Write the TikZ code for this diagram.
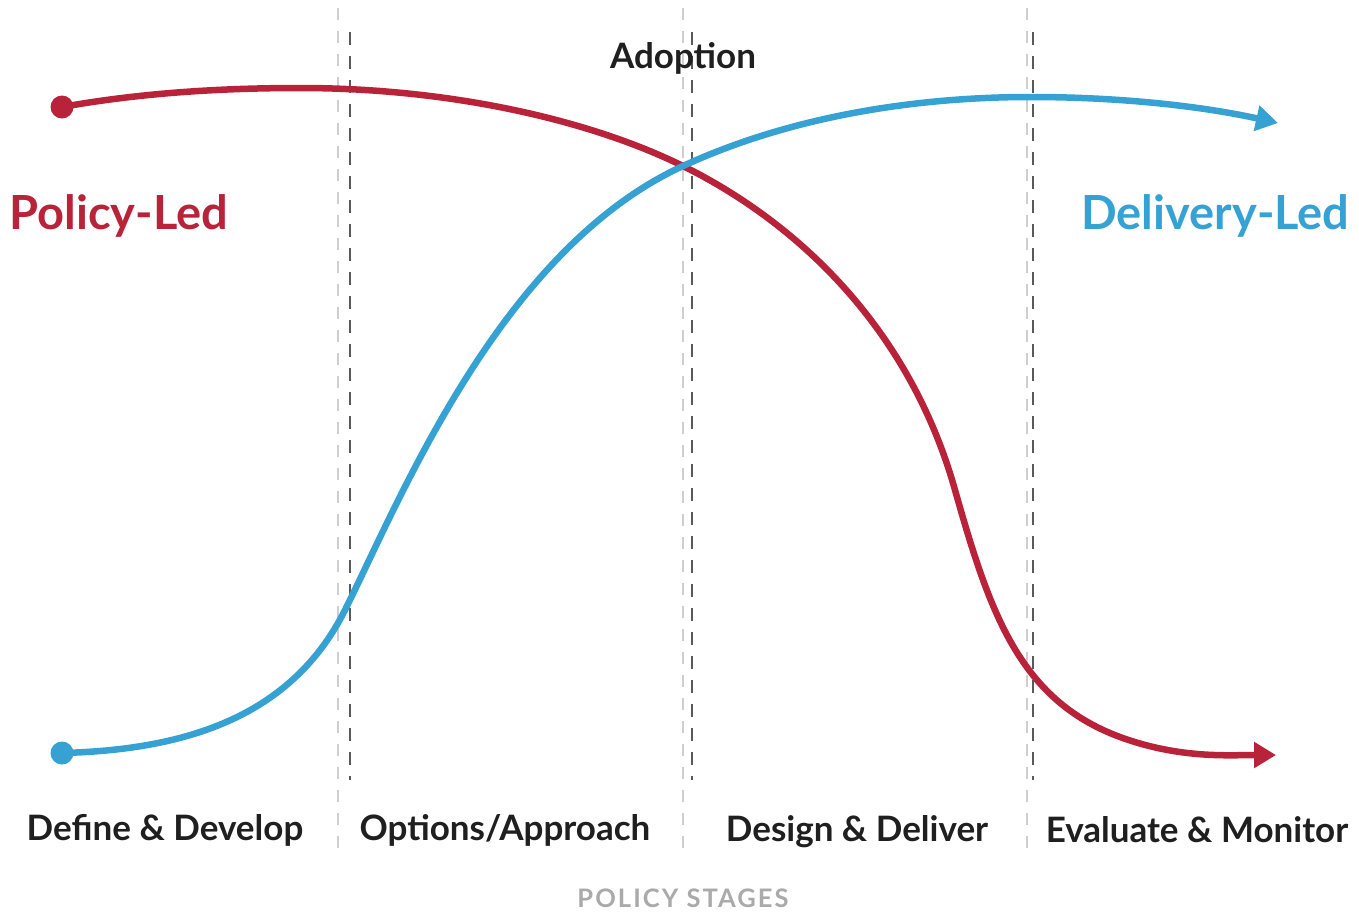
\documentclass[tikz,border=0pt]{standalone}
\usepackage{fontspec}
\setmainfont{Lato}
\usepackage{xcolor}
\usetikzlibrary{arrows.meta,positioning}

\definecolor{policyred}{HTML}{B8233A}
\definecolor{deliveryblue}{HTML}{36A1D3}
\definecolor{guidegray}{HTML}{CFCFCF}
\definecolor{stagegray}{HTML}{AAAAAA}

\tikzset{
  lane/.style={dashed, dash pattern=on 12pt off 11pt, line width=1.4pt, guidegray},
  mark line/.style={dashed, dash pattern=on 13pt off 11pt, line width=1.4pt, black!65},
  flow/.style={line width=6.5pt, line cap=round, -{Triangle[length=22pt,width=25pt]}},
  stage/.style={font=\bfseries\fontsize{35}{40}\selectfont, text=black!88},
  approach/.style={font=\bfseries\fontsize{47}{52}\selectfont}
}

\begin{document}
\begin{tikzpicture}[x=1pt, y=-1pt]
    \useasboundingbox (0,0) rectangle (1359,911);

    % stage boundaries
    \foreach \x in {338,683,1027} \draw[lane] (\x,8) -- (\x,850);
    \foreach \x in {350,692,1033} \draw[mark line] (\x,32) -- (\x,780);

    \coordinate (policy start) at (62,107);
    \coordinate (delivery start) at (62,753);
    \coordinate (cross) at (683,166);
    \coordinate (policy end) at (1276,755);
    \coordinate (delivery end) at (1278,123);

    % Policy-Led curve
    \draw[flow, policyred] (policy start) .. controls (140,93) and (220,88) .. (300,88)
        .. controls (450,88) and (590,120) .. (cross)
        .. controls (800,224) and (910,330) .. (955,490)
        .. controls (990,614) and (1020,700) .. (1120,737)
        .. controls (1180,759) and (1230,755) .. (policy end);
    \fill[policyred] (policy start) circle (11.5pt);

    % Delivery-Led curve
    \draw[flow, deliveryblue] (delivery start) .. controls (180,750) and (290,720) .. (345,610)
        .. controls (400,500) and (500,250) .. (cross)
        .. controls (800,112) and (930,97) .. (1030,97)
        .. controls (1130,97) and (1210,108) .. (delivery end);
    \fill[deliveryblue] (delivery start) circle (11.5pt);

    \node[approach, text=policyred, anchor=west] (policy led) at (6,216) {Policy-Led};
    \node[approach, text=deliveryblue, anchor=east] (delivery led) at (1353,216) {Delivery-Led};
    \node[stage] (adoption) at (683,58) {Adoption};

    \node[stage] (define) at (165,830) {Define \& Develop};
    \node[stage] (options) at (505,830) {Options/Approach};
    \node[stage] (design) at (857,832) {Design \& Deliver};
    \node[stage] (evaluate) at (1197,830) {Evaluate \& Monitor};

    \node[font=\bfseries\fontsize{25.5}{30}\selectfont\addfontfeature{LetterSpace=8}, text=stagegray] (stages) at (683,898) {POLICY STAGES};
\end{tikzpicture}
\end{document}
